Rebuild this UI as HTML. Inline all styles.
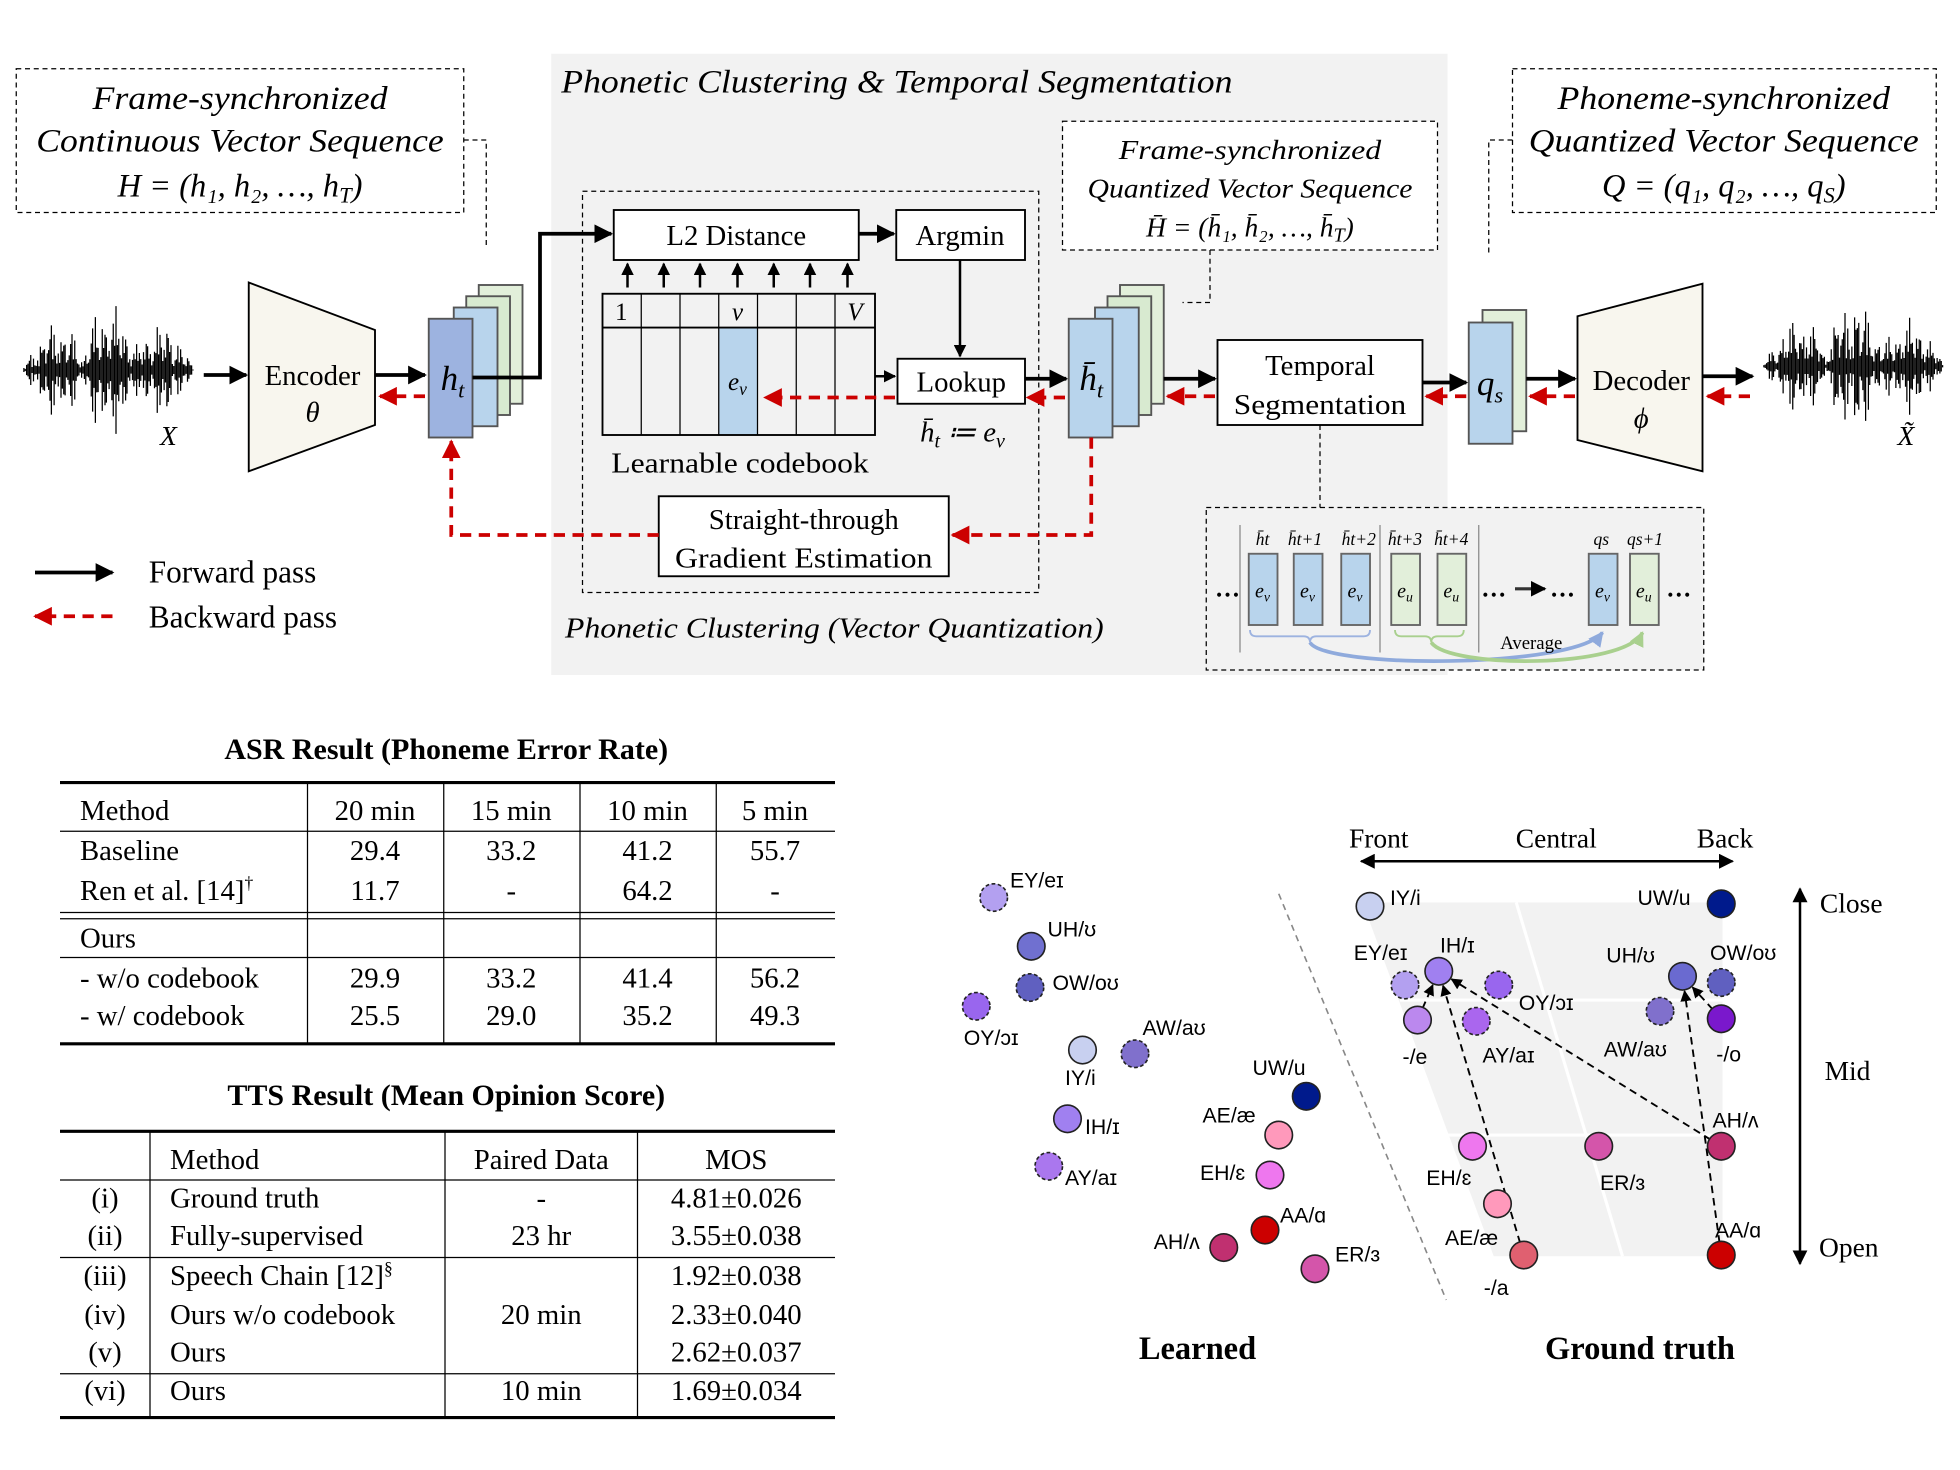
<!DOCTYPE html>
<html><head><meta charset="utf-8"><style>
html,body{margin:0;padding:0;background:#fff;}
svg{display:block;}
.s{font-family:"Liberation Serif",serif;}
.a{font-family:"Liberation Sans","DejaVu Sans",sans-serif;}
</style></head><body>
<svg id="fig" width="1960" height="1470" viewBox="0 0 1568 1176" xmlns="http://www.w3.org/2000/svg">
<defs>
<marker id="ab" viewBox="0 0 10 10" refX="9" refY="5" markerWidth="5" markerHeight="5" orient="auto"><path d="M0,0L10,5L0,10z" fill="#000"/></marker>
<marker id="ar" viewBox="0 0 10 10" refX="9" refY="5" markerWidth="5" markerHeight="5" orient="auto"><path d="M0,0L10,5L0,10z" fill="#c00"/></marker>
<marker id="as" viewBox="0 0 10 10" refX="9" refY="5" markerWidth="6" markerHeight="6" orient="auto"><path d="M0,0L10,5L0,10z" fill="#000"/></marker>
<marker id="abl" viewBox="0 0 10 10" refX="9" refY="5" markerWidth="4" markerHeight="4" orient="auto"><path d="M0,0L10,5L0,10z" fill="#8faadc"/></marker>
<marker id="agr" viewBox="0 0 10 10" refX="9" refY="5" markerWidth="4" markerHeight="4" orient="auto"><path d="M0,0L10,5L0,10z" fill="#a9d08e"/></marker>
</defs>
<rect x="441" y="43" width="717" height="497" fill="#f2f2f2"/>
<g class="s" font-style="italic" font-size="26" text-anchor="middle">
 <g>
 <rect x="13" y="55" width="358" height="115" fill="#fff" stroke="#000" stroke-dasharray="4,3"/>
 <text x="192" y="87" textLength="236" lengthAdjust="spacingAndGlyphs">Frame-synchronized</text>
 <text x="192" y="121" textLength="326" lengthAdjust="spacingAndGlyphs">Continuous Vector Sequence</text>
 <text x="192" y="157">H = (h₁, h₂, …, h<tspan font-size="18" dy="5">T</tspan><tspan dy="-5">)</tspan></text>
 </g>
 <g>
 <rect x="1210" y="55" width="339" height="115" fill="#fff" stroke="#000" stroke-dasharray="4,3"/>
 <text x="1379" y="87" textLength="266" lengthAdjust="spacingAndGlyphs">Phoneme-synchronized</text>
 <text x="1379" y="121" textLength="312" lengthAdjust="spacingAndGlyphs">Quantized Vector Sequence</text>
 <text x="1379" y="157">Q = (q₁, q₂, …, q<tspan font-size="18" dy="5">S</tspan><tspan dy="-5">)</tspan></text>
 </g>
 <g font-size="22">
 <rect x="850" y="97" width="300" height="103" fill="#fff" stroke="#000" stroke-dasharray="4,3"/>
 <text x="1000" y="127" textLength="210" lengthAdjust="spacingAndGlyphs">Frame-synchronized</text>
 <text x="1000" y="158" textLength="260" lengthAdjust="spacingAndGlyphs">Quantized Vector Sequence</text>
 <text x="1000" y="189">H̄ = (h̄₁, h̄₂, …, h̄<tspan font-size="16" dy="4">T</tspan><tspan dy="-4">)</tspan></text>
 </g>
</g>
<text class="s" x="449" y="74" font-size="26" font-style="italic" textLength="537" lengthAdjust="spacingAndGlyphs">Phonetic Clustering &amp; Temporal Segmentation</text>
<text class="s" x="452" y="510" font-size="23" font-style="italic" textLength="431" lengthAdjust="spacingAndGlyphs">Phonetic Clustering (Vector Quantization)</text>
<g stroke="#000" stroke-dasharray="4,3" fill="none">
<path d="M371,112 H389 V198"/><path d="M1210,112 H1191 V205"/><path d="M968,200 V242 H946"/><path d="M1056,340 V406"/>
</g>
<rect x="466" y="153" width="365" height="321" fill="none" stroke="#000" stroke-dasharray="4,3"/>
<g class="s" font-size="23" text-anchor="middle">
<rect x="491" y="168" width="196" height="40" fill="#fff" stroke="#000" stroke-width="1.5"/>
<text x="589" y="196">L2 Distance</text>
<rect x="717" y="168" width="103" height="40" fill="#fff" stroke="#000" stroke-width="1.5"/>
<text x="768" y="196">Argmin</text>
<rect x="718" y="287" width="102" height="36" fill="#fff" stroke="#000" stroke-width="1.5"/>
<text x="769" y="313">Lookup</text>
<text x="770" y="353" font-style="italic">h̄<tspan font-size="16" dy="5">t</tspan><tspan dy="-5"> ≔ e</tspan><tspan font-size="16" dy="5">v</tspan></text>
<text x="592" y="378" textLength="206" lengthAdjust="spacingAndGlyphs">Learnable codebook</text>
<rect x="527" y="397" width="232" height="64" fill="#fff" stroke="#000" stroke-width="1.5"/>
<text x="643" y="423">Straight-through</text>
<text x="643" y="454" textLength="206" lengthAdjust="spacingAndGlyphs">Gradient Estimation</text>
<rect x="974" y="272" width="164" height="68" fill="#fff" stroke="#000" stroke-width="1.5"/>
<text x="1056" y="300">Temporal</text>
<text x="1056" y="331" textLength="138" lengthAdjust="spacingAndGlyphs">Segmentation</text>
</g>
<g>
<rect x="575" y="262" width="31" height="86" fill="#b8d4ec"/>
<rect x="482" y="235" width="218" height="113" fill="none" stroke="#000" stroke-width="1.5"/>
<line x1="482" y1="262" x2="700" y2="262" stroke="#000" stroke-width="1.5"/>
<g stroke="#000"><line x1="513" y1="235" x2="513" y2="348"/><line x1="544" y1="235" x2="544" y2="348"/><line x1="575" y1="235" x2="575" y2="348"/><line x1="606" y1="235" x2="606" y2="348"/><line x1="637" y1="235" x2="637" y2="348"/><line x1="668" y1="235" x2="668" y2="348"/></g>
<g class="s" font-size="20" text-anchor="middle"><text x="497" y="256">1</text><text x="590" y="256" font-style="italic">v</text><text x="684" y="256" font-style="italic">V</text><text x="590" y="312" font-style="italic">e<tspan font-size="14" dy="4">v</tspan></text></g>
<g stroke="#000" stroke-width="2" marker-end="url(#ab)"><line x1="502" y1="230" x2="502" y2="211"/><line x1="531" y1="230" x2="531" y2="211"/><line x1="560" y1="230" x2="560" y2="211"/><line x1="590" y1="230" x2="590" y2="211"/><line x1="619" y1="230" x2="619" y2="211"/><line x1="648" y1="230" x2="648" y2="211"/><line x1="678" y1="230" x2="678" y2="211"/></g>
</g>
<g class="s" font-size="23" text-anchor="middle">
<polygon points="199,226 300,264 300,340 199,377" fill="#f8f6ee" stroke="#000" stroke-width="1.5"/>
<text x="250" y="308">Encoder</text><text x="250" y="337" font-style="italic">θ</text>
<polygon points="1262,253 1362,227 1362,377 1262,352" fill="#f8f6ee" stroke="#000" stroke-width="1.5"/>
<text x="1313" y="312">Decoder</text><text x="1313" y="342" font-style="italic">ϕ</text>
</g>
<g stroke="#555" stroke-width="1.5">
<rect x="383" y="228" width="35" height="95" fill="#e2efda"/><rect x="373" y="237" width="35" height="95" fill="#d8ead0"/><rect x="363" y="246" width="35" height="95" fill="#b8d4ec"/><rect x="343" y="255" width="35" height="95" fill="#9db3e0"/>
</g>
<text class="s" x="362" y="312" font-size="28" font-style="italic" text-anchor="middle">h<tspan font-size="18" dy="6">t</tspan></text>
<g stroke="#555" stroke-width="1.5">
<rect x="896" y="228" width="35" height="95" fill="#e2efda"/><rect x="886" y="237" width="35" height="95" fill="#d8ead0"/><rect x="876" y="246" width="35" height="95" fill="#b8d4ec"/><rect x="855" y="255" width="35" height="95" fill="#b8d4ec"/>
</g>
<text class="s" x="873" y="312" font-size="28" font-style="italic" text-anchor="middle">h̄<tspan font-size="18" dy="6">t</tspan></text>
<g stroke="#555" stroke-width="1.5">
<rect x="1186" y="248" width="35" height="97" fill="#e2efda"/><rect x="1175" y="258" width="35" height="97" fill="#b8d4ec"/>
</g>
<text class="s" x="1192" y="316" font-size="28" font-style="italic" text-anchor="middle">q<tspan font-size="18" dy="6">s</tspan></text>
<g id="waveL" stroke="#000" stroke-width="1"></g>
<g id="waveR" stroke="#000" stroke-width="1"></g>
<text class="s" x="128" y="356" font-size="22" font-style="italic">X</text>
<text class="s" x="1518" y="356" font-size="22" font-style="italic">X̃</text>
<g stroke="#000" stroke-width="3" fill="none" marker-end="url(#ab)">
<line x1="163" y1="300" x2="197" y2="300"/><line x1="300" y1="300" x2="340" y2="300"/>
<path d="M378,302 H432 V187 H489"/><line x1="687" y1="187" x2="715" y2="187"/>
<line x1="768" y1="208" x2="768" y2="285" stroke-width="2"/><line x1="700" y1="301" x2="716" y2="301" stroke-width="2"/>
<line x1="820" y1="303" x2="853" y2="303"/><line x1="931" y1="303" x2="972" y2="303"/><line x1="1138" y1="306" x2="1173" y2="306"/><line x1="1221" y1="303" x2="1260" y2="303"/><line x1="1362" y1="301" x2="1402" y2="301"/>
</g>
<g stroke="#c00" stroke-width="3" stroke-dasharray="9,6" fill="none" marker-end="url(#ar)">
<line x1="340" y1="317" x2="304" y2="317"/><line x1="716" y1="318" x2="612" y2="318"/><line x1="852" y1="318" x2="822" y2="318"/>
<line x1="972" y1="317" x2="934" y2="317"/><line x1="1173" y1="317" x2="1141" y2="317"/><line x1="1260" y1="317" x2="1224" y2="317"/><line x1="1400" y1="317" x2="1366" y2="317"/>
<path d="M873,350 V428 H762"/><path d="M527,428 H361 V353"/>
</g>
<g class="s" font-size="25">
<line x1="28" y1="458" x2="90" y2="458" stroke="#000" stroke-width="3" marker-end="url(#ab)"/>
<text x="119" y="466">Forward pass</text>
<line x1="90" y1="493" x2="28" y2="493" stroke="#c00" stroke-width="3" stroke-dasharray="9,6" marker-end="url(#ar)"/>
<text x="119" y="502">Backward pass</text>
</g>
<g>
<rect x="965" y="406" width="398" height="130" fill="#f2f2f2" stroke="#000" stroke-dasharray="4,3"/>
<g stroke="#888"><line x1="992" y1="420" x2="992" y2="522"/><line x1="1104" y1="420" x2="1104" y2="522"/><line x1="1183" y1="420" x2="1183" y2="522"/></g>
<g stroke="#666" stroke-width="1.5">
<rect x="999" y="443" width="23" height="57" fill="#b8d4ec"/><rect x="1035" y="443" width="23" height="57" fill="#b8d4ec"/><rect x="1073" y="443" width="23" height="57" fill="#b8d4ec"/>
<rect x="1113" y="443" width="23" height="57" fill="#e2efda"/><rect x="1150" y="443" width="23" height="57" fill="#e2efda"/>
<rect x="1271" y="443" width="23" height="57" fill="#b8d4ec"/><rect x="1304" y="443" width="23" height="57" fill="#e2efda"/>
</g>
<g class="s" font-size="16" font-style="italic" text-anchor="middle">
<text x="1010" y="478">e<tspan font-size="11" dy="3">v</tspan></text><text x="1046" y="478">e<tspan font-size="11" dy="3">v</tspan></text><text x="1084" y="478">e<tspan font-size="11" dy="3">v</tspan></text>
<text x="1124" y="478">e<tspan font-size="11" dy="3">u</tspan></text><text x="1161" y="478">e<tspan font-size="11" dy="3">u</tspan></text>
<text x="1282" y="478">e<tspan font-size="11" dy="3">v</tspan></text><text x="1315" y="478">e<tspan font-size="11" dy="3">u</tspan></text>
<g font-size="14"><text x="1010" y="436">h̄t</text><text x="1044" y="436">h̄t+1</text><text x="1087" y="436">h̄t+2</text><text x="1124" y="436">h̄t+3</text><text x="1161" y="436">h̄t+4</text><text x="1281" y="436">qs</text><text x="1316" y="436">qs+1</text></g>
</g>
<g class="s" font-size="20" font-weight="bold"><text x="972" y="477">…</text><text x="1185" y="477">…</text><text x="1240" y="477">…</text><text x="1333" y="477">…</text></g>
<line x1="1212" y1="471" x2="1236" y2="471" stroke="#333" stroke-width="2.5" marker-end="url(#ab)"/>
<path d="M1000,504 q0,5 5,5 H1043 q5,0 5,5 q0,-5 5,-5 H1091 q5,0 5,-5" fill="none" stroke="#9db3e0" stroke-width="1.5"/>
<path d="M1116,504 q0,5 5,5 H1140 q5,0 5,5 q0,-5 5,-5 H1166 q5,0 5,-5" fill="none" stroke="#a9d08e" stroke-width="1.5"/>
<path d="M1048,514 C1060,535 1260,535 1282,506" fill="none" stroke="#8faadc" stroke-width="3" marker-end="url(#abl)"/>
<path d="M1145,514 C1160,535 1300,535 1314,506" fill="none" stroke="#a9d08e" stroke-width="3" marker-end="url(#agr)"/>
<text class="s" x="1225" y="519" font-size="15" text-anchor="middle">Average</text>
</g>
<g class="s" font-size="23">
<text x="357" y="607" text-anchor="middle" font-weight="bold" font-size="24">ASR Result (Phoneme Error Rate)</text>
<g stroke="#000"><line x1="48" y1="626" x2="668" y2="626" stroke-width="2.5"/><line x1="48" y1="665" x2="668" y2="665"/><line x1="48" y1="730" x2="668" y2="730"/><line x1="48" y1="735" x2="668" y2="735"/><line x1="48" y1="766" x2="668" y2="766"/><line x1="48" y1="835" x2="668" y2="835" stroke-width="2.5"/>
<line x1="246" y1="626" x2="246" y2="835"/><line x1="355" y1="626" x2="355" y2="835"/><line x1="464" y1="626" x2="464" y2="835"/><line x1="573" y1="626" x2="573" y2="835"/></g>
<g><text x="64" y="656">Method</text><text x="64" y="688">Baseline</text><text x="64" y="720">Ren et al. [14]<tspan font-size="14" dy="-9">†</tspan></text><text x="64" y="758">Ours</text><text x="64" y="790">- w/o codebook</text><text x="64" y="820">- w/  codebook</text></g>
<g text-anchor="middle">
<text x="300" y="656">20 min</text><text x="409" y="656">15 min</text><text x="518" y="656">10 min</text><text x="620" y="656">5 min</text>
<text x="300" y="688">29.4</text><text x="409" y="688">33.2</text><text x="518" y="688">41.2</text><text x="620" y="688">55.7</text>
<text x="300" y="720">11.7</text><text x="409" y="720">-</text><text x="518" y="720">64.2</text><text x="620" y="720">-</text>
<text x="300" y="790">29.9</text><text x="409" y="790">33.2</text><text x="518" y="790">41.4</text><text x="620" y="790">56.2</text>
<text x="300" y="820">25.5</text><text x="409" y="820">29.0</text><text x="518" y="820">35.2</text><text x="620" y="820">49.3</text>
</g></g>
<g class="s" font-size="23">
<text x="357" y="884" text-anchor="middle" font-weight="bold" font-size="24">TTS Result (Mean Opinion Score)</text>
<g stroke="#000"><line x1="48" y1="905" x2="668" y2="905" stroke-width="2.5"/><line x1="48" y1="944" x2="668" y2="944"/><line x1="48" y1="1006" x2="668" y2="1006"/><line x1="48" y1="1099" x2="668" y2="1099"/><line x1="48" y1="1134" x2="668" y2="1134" stroke-width="2.5"/>
<line x1="120" y1="905" x2="120" y2="1134"/><line x1="356" y1="905" x2="356" y2="1134"/><line x1="510" y1="905" x2="510" y2="1134"/></g>
<g text-anchor="middle"><text x="84" y="966">(i)</text><text x="84" y="996">(ii)</text><text x="84" y="1028">(iii)</text><text x="84" y="1059">(iv)</text><text x="84" y="1089">(v)</text><text x="84" y="1120">(vi)</text>
<text x="433" y="935">Paired Data</text><text x="433" y="966">-</text><text x="433" y="996">23 hr</text><text x="433" y="1059">20 min</text><text x="433" y="1120">10 min</text>
<text x="589" y="935">MOS</text><text x="589" y="966">4.81±0.026</text><text x="589" y="996">3.55±0.038</text><text x="589" y="1028">1.92±0.038</text><text x="589" y="1059">2.33±0.040</text><text x="589" y="1089">2.62±0.037</text><text x="589" y="1120">1.69±0.034</text></g>
<g><text x="136" y="935">Method</text><text x="136" y="966">Ground truth</text><text x="136" y="996">Fully-supervised</text><text x="136" y="1028">Speech Chain [12]<tspan font-size="14" dy="-9">§</tspan></text><text x="136" y="1059">Ours w/o codebook</text><text x="136" y="1089">Ours</text><text x="136" y="1120">Ours</text></g>
</g>
<g>
<polygon points="1090,722 1378,722 1378,1005 1195,1005" fill="#f2f2f2"/>
<g stroke="#fff" stroke-width="2.5"><line x1="1213" y1="722" x2="1298" y2="1005"/><line x1="1120" y1="800" x2="1378" y2="800"/><line x1="1152" y1="908" x2="1378" y2="908"/></g>
<line x1="1023" y1="715" x2="1157" y2="1040" stroke="#888" stroke-dasharray="5,4" stroke-width="1.3"/>
<g class="s" font-size="22"><text x="1103" y="678" text-anchor="middle">Front</text><text x="1245" y="678" text-anchor="middle">Central</text><text x="1380" y="678" text-anchor="middle">Back</text>
<text x="1481" y="730" text-anchor="middle">Close</text><text x="1478" y="864" text-anchor="middle">Mid</text><text x="1479" y="1005" text-anchor="middle">Open</text></g>
<g stroke="#000" stroke-width="2" marker-end="url(#as)"><line x1="1238" y1="689" x2="1386" y2="689"/><line x1="1238" y1="689" x2="1089" y2="689"/><line x1="1440" y1="860" x2="1440" y2="711"/><line x1="1440" y1="860" x2="1440" y2="1011"/></g>
<g id="gtArrows" stroke="#000" stroke-width="1.5" stroke-dasharray="6,4" fill="none"></g>
<g id="pts"></g>
<g class="s" font-size="26" font-weight="bold" text-anchor="middle"><text x="958" y="1087">Learned</text><text x="1312" y="1087">Ground truth</text></g>
</g>
</svg>
<script>
const NS='http://www.w3.org/2000/svg';
const learnedLabels=['EY/eɪ','UH/ʊ','OW/oʊ','OY/ɔɪ','IY/i','AW/aʊ','UW/u','AE/æ','EH/ɛ','IH/ɪ','AY/aɪ','AA/ɑ','AH/ʌ','ER/ɜ'];
const learnedX=[795,825,824,781,866,908,1045,1023,1016,854,839,1012,979,1052];
const learnedY=[718,757,790,805,840,843,877,908,940,895,933,984,998,1015];
const learnedColor=['#b3a0f0','#7070d0','#6060c0','#9966ee','#c8d0f0','#8070cc','#001a8c','#ff99bb','#ee77ee','#a080f0','#aa77ee','#cc0000','#c03070','#d455aa'];
const learnedDash=[1,0,1,1,0,1,0,0,0,0,1,0,0,0];
const learnedLX=[808,838,842,771,852,914,1002,962,960,868,852,1024,923,1068];
const learnedLY=[710,749,792,836,868,828,860,898,944,907,948,978,999,1009];
const gtLabels=['IY/i','UW/u','EY/eɪ','IH/ɪ','OY/ɔɪ','-/e','AY/aɪ','UH/ʊ','OW/oʊ','AW/aʊ','-/o','AH/ʌ','EH/ɛ','ER/ɜ','AE/æ','-/a','AA/ɑ'];
const gtX=[1096,1377,1124,1151,1199,1134,1181,1346,1377,1328,1377,1377,1178,1279,1198,1219,1377];
const gtY=[725,723,788,777,788,816,817,781,786,809,815,917,917,917,963,1004,1004];
const gtColor=['#c8d0f0','#001a8c','#b3a0f0','#a080f0','#9966ee','#bb88ee','#aa66ee','#6a6ad0','#6060c0','#8070cc','#7a18cc','#c03070','#ee77ee','#d455aa','#ff99bb','#e06070','#cc0000'];
const gtDash=[0,0,1,0,1,0,1,0,1,1,0,0,0,0,0,0,0];
const gtLX=[1112,1310,1083,1152,1215,1122,1186,1285,1368,1283,1373,1370,1141,1280,1156,1187,1372];
const gtLY=[724,724,768,762,808,851,850,770,768,845,849,902,948,952,996,1036,990];
const arrowFrom=[15,11,16,5,10];
const arrowTo=[3,3,7,3,7];

const pts=document.getElementById('pts');
function drawSet(labels,xs,ys,cols,dash,lx,ly,prefix){
 for(let i=0;i<labels.length;i++){
  const c=document.createElementNS(NS,'circle');
  c.setAttribute('cx',xs[i]);c.setAttribute('cy',ys[i]);c.setAttribute('r',11);
  c.setAttribute('fill',cols[i]);c.setAttribute('stroke','#222');c.setAttribute('stroke-width','1.3');
  if(dash[i])c.setAttribute('stroke-dasharray','3,2');
  
  
  pts.appendChild(c);
  const t=document.createElementNS(NS,'text');
  t.setAttribute('x',lx[i]);t.setAttribute('y',ly[i]);t.setAttribute('font-size','17');
  t.setAttribute('font-family','"Liberation Sans","DejaVu Sans",sans-serif');
  t.textContent=labels[i];
  
  
  pts.appendChild(t);
 }
}
drawSet(learnedLabels,learnedX,learnedY,learnedColor,learnedDash,learnedLX,learnedLY,'learned');
drawSet(gtLabels,gtX,gtY,gtColor,gtDash,gtLX,gtLY,'ground-truth');
const ga=document.getElementById('gtArrows');
for(let k=0;k<arrowFrom.length;k++){
 const a=arrowFrom[k],b=arrowTo[k];
 const dx=gtX[b]-gtX[a],dy=gtY[b]-gtY[a],L=Math.hypot(dx,dy);
 const l=document.createElementNS(NS,'line');
 l.setAttribute('x1',gtX[a]+dx/L*10);l.setAttribute('y1',gtY[a]+dy/L*10);
 l.setAttribute('x2',gtX[b]-dx/L*12);l.setAttribute('y2',gtY[b]-dy/L*12);
 l.setAttribute('marker-end','url(#as)');
 
 
 ga.appendChild(l);
}
function wave(id,x0,x1,cy,amp){
 const g=document.getElementById(id);let d='';
 for(let x=x0;x<=x1;x+=1.1){
  const p=(x-x0)/(x1-x0);
  const env=Math.max(0.06,Math.abs(Math.sin(p*9.3))*0.6+Math.abs(Math.sin(p*23.7+1))*0.4)*Math.sin(Math.PI*p)**0.5;
  const s=Math.abs(Math.sin(x*1.71))*Math.abs(Math.sin(x*0.37+2));
  const h=amp*env*(0.15+0.85*s);
  d+='M'+x.toFixed(1)+','+(cy-h).toFixed(1)+'V'+(cy+h).toFixed(1);
 }
 const p=document.createElementNS(NS,'path');p.setAttribute('d',d);g.appendChild(p);
}
wave('waveL',18,155,296,55);
wave('waveR',1410,1555,293,55);
</script>
</body></html>
